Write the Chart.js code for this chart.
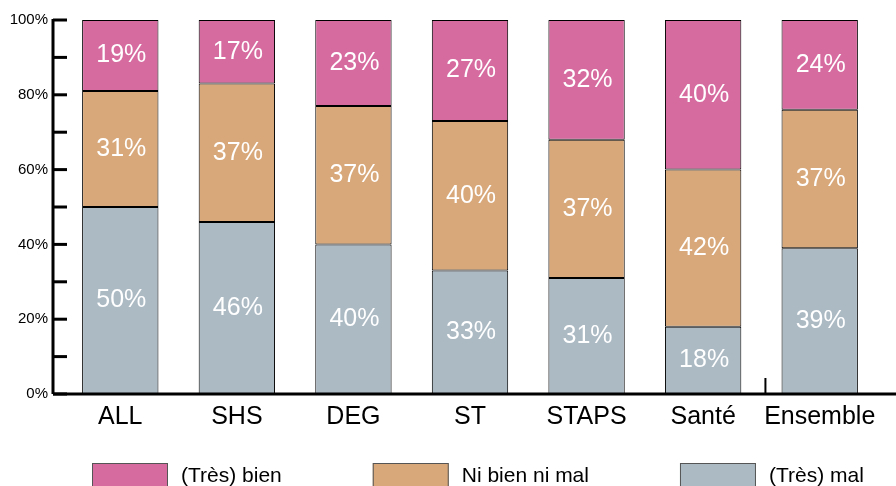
<!DOCTYPE html>
<html>
<head>
<meta charset="utf-8">
<script src="https://cdn.jsdelivr.net/npm/chart.js@4"></script>
<style>
html,body{margin:0;padding:0;background:#fff;overflow:hidden;}
#wrap{width:896px;height:500px;}
</style>
</head>
<body>
<div id="wrap"><canvas id="chart" width="896" height="500"></canvas></div>
<script>
// categories and series (percent)
const categories = ["ALL", "SHS", "DEG", "ST", "STAPS", "Santé", "Ensemble"];
const mal = [50, 46, 40, 33, 31, 18, 39];
const niBienNiMal = [31, 37, 37, 40, 37, 42, 37];
const bien = [19, 17, 23, 27, 32, 40, 24];
const yTicks = [0, 20, 40, 60, 80, 100];

const FONT = "'Liberation Sans', Arial, sans-serif";

// axes, value labels and legend drawn by hand
const axesPlugin = {
  id: "axesPlugin",
  afterDatasetsDraw(chart) {
    const ctx = chart.ctx;
    const y = chart.scales.y;
    const x = chart.scales.x;
    const axisX = chart.chartArea.left - 9;
    const y0 = y.getPixelForValue(0);
    const y100 = y.getPixelForValue(100);
    ctx.save();
    ctx.strokeStyle = "#000";
    ctx.lineWidth = 3;
    ctx.beginPath();
    ctx.moveTo(axisX, y100 - 1);
    ctx.lineTo(axisX, y0);
    ctx.moveTo(axisX, y0);
    ctx.lineTo(chart.width, y0);
    ctx.stroke();
    for (let v = 0; v <= 100; v += 10) {
      const py = y.getPixelForValue(v);
      ctx.beginPath();
      ctx.moveTo(axisX, py);
      ctx.lineTo(axisX + 14, py);
      ctx.stroke();
    }
    // small separator before "Ensemble"
    const gx = (x.getPixelForValue(5) + x.getPixelForValue(6)) / 2 + 4;
    ctx.lineWidth = 2;
    ctx.beginPath();
    ctx.moveTo(gx, y0 - 16);
    ctx.lineTo(gx, y0);
    ctx.stroke();

    // value labels inside segments
    ctx.fillStyle = "#fff";
    ctx.font = "25px " + FONT;
    ctx.textAlign = "center";
    ctx.textBaseline = "middle";
    chart.data.datasets.forEach((ds, di) => {
      const meta = chart.getDatasetMeta(di);
      meta.data.forEach((bar, i) => {
        const mid = (bar.y + bar.base) / 2;
        ctx.fillText(ds.data[i] + "%", bar.x + 1, mid);
      });
    });

    // legend (top series first)
    ctx.font = "21px " + FONT;
    ctx.textAlign = "left";
    let lx = 92;
    const ly = 463;
    chart.data.datasets.slice().reverse().forEach(ds => {
      ctx.fillStyle = ds.backgroundColor;
      ctx.fillRect(lx, ly, 76, 32);
      ctx.strokeStyle = "#555";
      ctx.lineWidth = 1;
      ctx.strokeRect(lx + 0.5, ly + 0.5, 75, 31);
      ctx.fillStyle = "#000";
      ctx.fillText(ds.label, lx + 89, ly + 13);
      lx += 89 + ctx.measureText(ds.label).width + 91;
    });
    ctx.restore();
  }
};

new Chart(document.getElementById("chart"), {
  type: "bar",
  data: {
    labels: categories,
    datasets: [
      { label: "(Très) mal", data: mal, backgroundColor: "#acbac4", borderColor: "#000", borderWidth: 1, borderSkipped: false },
      { label: "Ni bien ni mal", data: niBienNiMal, backgroundColor: "#d8a87a", borderColor: "#000", borderWidth: 1, borderSkipped: false },
      { label: "(Très) bien", data: bien, backgroundColor: "#d66ba0", borderColor: "#000", borderWidth: 1, borderSkipped: false }
    ]
  },
  options: {
    responsive: false,
    animation: false,
    layout: { padding: { top: 20, right: 18, left: 0, bottom: 68 } },
    categoryPercentage: 1,
    barPercentage: 0.655,
    scales: {
      x: {
        stacked: true,
        grid: { display: false },
        border: { display: false },
        ticks: { color: "#000", font: { size: 25, family: FONT }, padding: 0, maxRotation: 0, minRotation: 0, autoSkip: false }
      },
      y: {
        stacked: true,
        min: 0,
        max: 100,
        afterBuildTicks(axis) { axis.ticks = yTicks.map(v => ({ value: v })); },
        afterFit(axis) { axis.width = 62; },
        grid: { display: false },
        border: { display: false },
        ticks: {
          color: "#000",
          padding: 6,
          font: { size: 15, family: FONT },
          callback: v => v + "%"
        }
      }
    },
    plugins: {
      tooltip: { enabled: false },
      legend: { display: false }
    }
  },
  plugins: [axesPlugin]
});
</script>
</body>
</html>
